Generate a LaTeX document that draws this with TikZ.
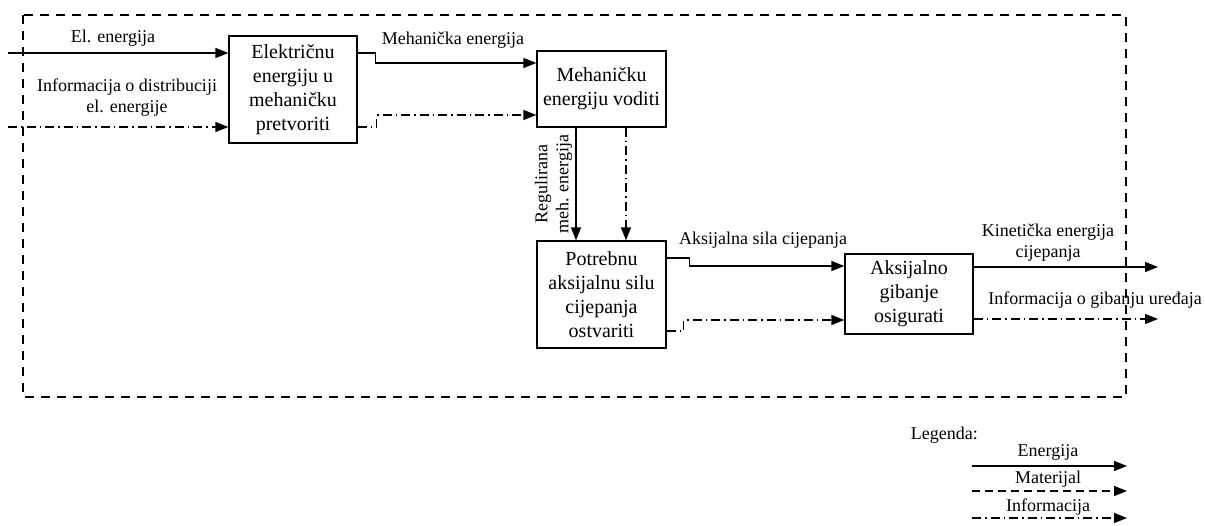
\documentclass[tikz,border=0pt]{standalone}
\usepackage{fontspec}
\setmainfont{Liberation Serif}
\usetikzlibrary{arrows.meta}
\tikzset{
  blk/.style={draw, line width=1.2pt, inner sep=0pt, align=center, font=\fontsize{20}{24}\selectfont},
  lbl/.style={inner sep=0pt, align=center, font=\fontsize{18}{21}\selectfont},
  en/.style={line width=1.2pt, -{Triangle[length=13pt,width=10pt]}},
  inf/.style={en, dash pattern=on 9pt off 4pt on 1.5pt off 4pt},
  mat/.style={en, dash pattern=on 8pt off 5pt},
  bord/.style={line width=1.2pt, dash pattern=on 9pt off 7pt},
}
\begin{document}
\begin{tikzpicture}[x=1pt,y=-1pt]
\useasboundingbox (0,0) rectangle (1205,525);
\draw[bord] (23,15) rectangle (1126,397);

\node[blk, minimum width=128pt, minimum height=107pt] (b1) at (293,89.5) {Električnu\\energiju u\\mehaničku\\pretvoriti};
\node[blk, minimum width=129pt, minimum height=76pt] (b2) at (601.5,89) {Mehaničku\\energiju voditi};
\node[blk, minimum width=129pt, minimum height=107pt] (b3) at (601.5,294.5) {Potrebnu\\aksijalnu silu\\cijepanja\\ostvariti};
\node[blk, minimum width=128pt, minimum height=80pt] (b4) at (909,294) {Aksijalno\\gibanje\\osigurati};

\coordinate (i1) at (8,53);
\coordinate (i2) at (8,127);
\coordinate (o1) at (1158,267);
\coordinate (o2) at (1158,319);

\draw[en] (i1) -- (i1 -| b1.west);
\draw[inf] (i2) -- (i2 -| b1.west);
\draw[en] (b1.east |- 0,53) -- ++(18,0) |- (b2.west |- 0,63);
\draw[inf] (b1.east |- 0,127) -- ++(19,0) |- (b2.west |- 0,115);
\draw[en] (b2.south -| 576,0) -- (b3.north -| 576,0);
\draw[inf] (b2.south -| 626,0) -- (b3.north -| 626,0);
\draw[en] (b3.east |- 0,258) -- ++(23,0) |- (b4.west |- 0,266);
\draw[inf] (b3.east |- 0,331) -- ++(17,0) |- (b4.west |- 0,320);
\draw[en] (b4.east |- o1) -- (o1);
\draw[inf] (b4.east |- o2) -- (o2);

\node[lbl] (t1) at (113,38) {El. energija};
\node[lbl] (t2) at (127,98) {Informacija o distribuciji\\el. energije};
\node[lbl] (t3) at (453,40) {Mehanička energija};
\node[lbl, rotate=90] (t4) at (553.5,184) {Regulirana\\meh. energija};
\node[lbl] (t5) at (763,240) {Aksijalna sila cijepanja};
\node[lbl] (t6) at (1048,243) {Kinetička energija\\cijepanja};
\node[lbl] (t7) at (1095,300) {Informacija o gibanju uređaja};

\node[lbl, anchor=east] (lg) at (978,435) {Legenda:};
\coordinate (l1s) at (972,466);
\coordinate (l1e) at (1127,466);
\coordinate (l2s) at (972,491);
\coordinate (l2e) at (1127,491);
\coordinate (l3s) at (972,518);
\coordinate (l3e) at (1127,518);
\draw[en] (l1s) -- (l1e);
\draw[mat] (l2s) -- (l2e);
\draw[inf] (l3s) -- (l3e);
\node[lbl] (e1) at (1048,452) {Energija};
\node[lbl] (e2) at (1048,479) {Materijal};
\node[lbl] (e3) at (1048,507) {Informacija};
\end{tikzpicture}
\end{document}
